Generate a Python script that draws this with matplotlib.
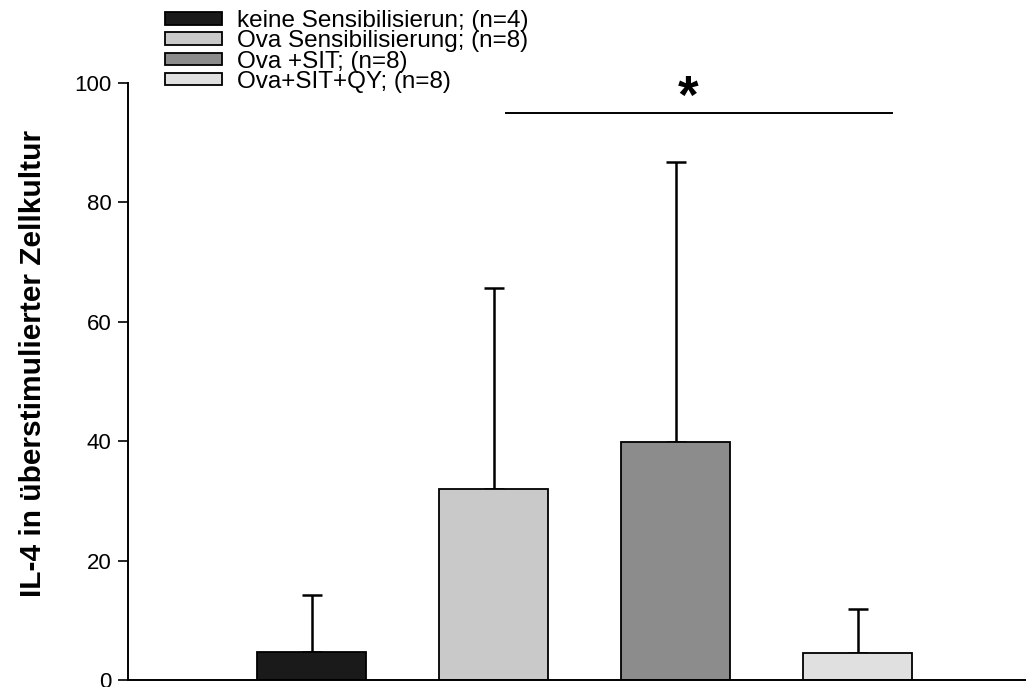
import matplotlib
matplotlib.use("Agg")
import matplotlib.pyplot as plt

plt.rcParams['font.family'] = ['Liberation Sans', 'DejaVu Sans']

# Daten
gruppen = ['keine Sensibilisierun; (n=4)', 'Ova Sensibilisierung; (n=8)',
           'Ova +SIT; (n=8)', 'Ova+SIT+QY; (n=8)']
mittelwerte = [4.7, 32.0, 39.9, 4.5]
fehler_oben = [9.5, 33.7, 46.9, 7.4]
farben = ['#1a1a1a', '#c9c9c9', '#8c8c8c', '#e0e0e0']
y_ticks = [0, 20, 40, 60, 80, 100]
y_label = 'IL-4 in überstimulierter Zellkultur'

# Signifikanz zwischen Gruppe 2 und 4
sig_x = [2.07, 4.19]
sig_y = 95
sig_text = '*'

fig = plt.figure(figsize=(10.31, 6.87), dpi=100)
ax = fig.add_axes([128 / 1031, 7 / 687, (1025 - 128) / 1031, (680 - 83) / 687])

pos = [1, 2, 3, 4]
bars = ax.bar(pos, mittelwerte, width=0.6, color=farben, edgecolor='black',
              linewidth=1.3, zorder=2)
ax.errorbar(pos, mittelwerte, yerr=[[0] * 4, fehler_oben], fmt='none',
            ecolor='black', elinewidth=1.8, capsize=7, capthick=1.8, zorder=1)

# Signifikanzlinie
ax.plot(sig_x, [sig_y, sig_y], color='black', lw=1.4)
ax.text(sum(sig_x) / 2 - 0.06, 95.0, sig_text, ha='center', va='baseline',
        fontsize=38, fontweight='bold')

ax.set_xlim(-0.01, 4.92)
ax.set_ylim(0, 100)
ax.set_yticks(y_ticks)
ax.set_xticks([])
ax.tick_params(axis='y', direction='out', length=7, width=1.2, labelsize=16, pad=5)
for s in ['top', 'right']:
    ax.spines[s].set_visible(False)
ax.spines['left'].set_linewidth(1.4)
ax.spines['bottom'].set_linewidth(1.4)
ax.set_ylabel(y_label, fontsize=21.5, fontweight='bold')
ax.yaxis.set_label_coords(-0.09, 0.53)

leg = fig.legend(bars, gruppen, loc='upper left',
                 bbox_to_anchor=(165 / 1031, 1 - 10 / 687),
                 frameon=False, fontsize=17.5, handlelength=2.35,
                 handleheight=0.41, handletextpad=0.62, labelspacing=-0.07,
                 borderpad=0, borderaxespad=0)

fig.savefig('out.png', dpi=100)
